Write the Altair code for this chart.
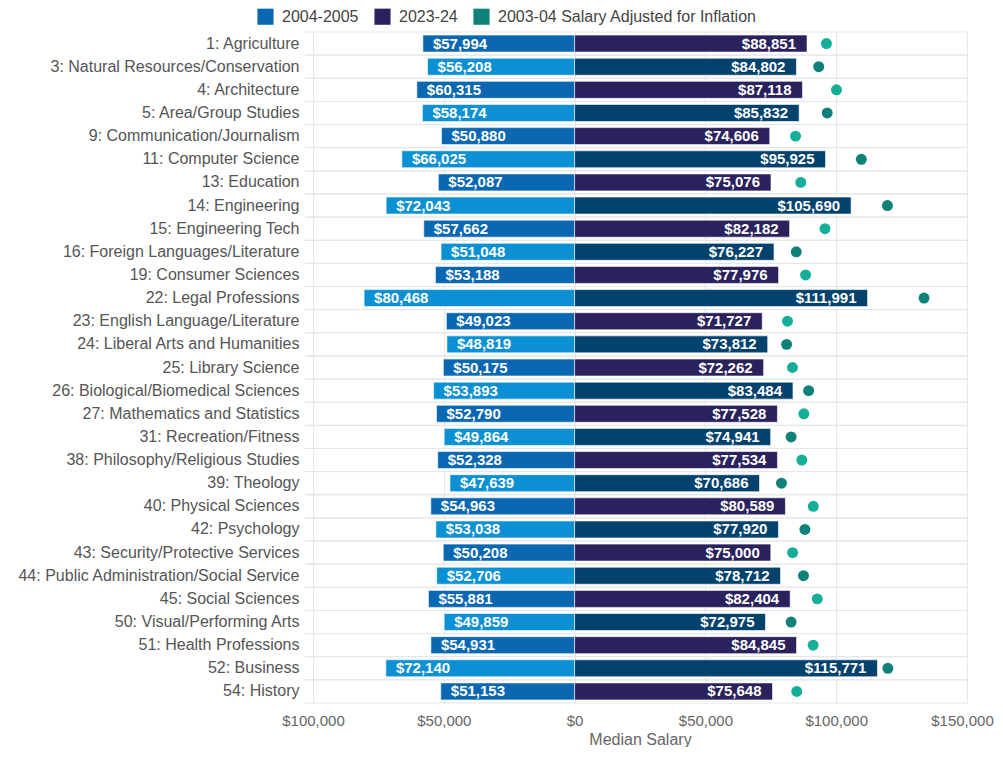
import altair as alt
import pandas as pd

categories = [
    "1: Agriculture", "3: Natural Resources/Conservation", "4: Architecture",
    "5: Area/Group Studies", "9: Communication/Journalism", "11: Computer Science",
    "13: Education", "14: Engineering", "15: Engineering Tech",
    "16: Foreign Languages/Literature", "19: Consumer Sciences", "22: Legal Professions",
    "23: English Language/Literature", "24: Liberal Arts and Humanities",
    "25: Library Science", "26: Biological/Biomedical Sciences",
    "27: Mathematics and Statistics", "31: Recreation/Fitness",
    "38: Philosophy/Religious Studies", "39: Theology", "40: Physical Sciences",
    "42: Psychology", "43: Security/Protective Services",
    "44: Public Administration/Social Service", "45: Social Sciences",
    "50: Visual/Performing Arts", "51: Health Professions", "52: Business", "54: History",
]
salary_2004 = [57994, 56208, 60315, 58174, 50880, 66025, 52087, 72043, 57662, 51048,
               53188, 80468, 49023, 48819, 50175, 53893, 52790, 49864, 52328, 47639,
               54963, 53038, 50208, 52706, 55881, 49859, 54931, 72140, 51153]
salary_2023 = [88851, 84802, 87118, 85832, 74606, 95925, 75076, 105690, 82182, 76227,
               77976, 111991, 71727, 73812, 72262, 83484, 77528, 74941, 77534, 70686,
               80589, 77920, 75000, 78712, 82404, 72975, 84845, 115771, 75648]
salary_adjusted = [96270, 93305, 100123, 96569, 84461, 109602, 86464, 119591, 95719, 84740,
                   88292, 133577, 81378, 81040, 83291, 89462, 87631, 82774, 86864, 79081,
                   91239, 88043, 83345, 87492, 92762, 82766, 91185, 119752, 84914]

S04 = "2004-2005"
S23 = "2023-24"
SADJ = "2003-04 Salary Adjusted for Inflation"
color_domain = [S04, S04 + " b", S23, S23 + " b", SADJ, SADJ + " b"]
color_range = ["#0a67b2", "#0b90d3", "#29225c", "#04426e", "#0f8178", "#15ae98"]

rows = []
for i, c in enumerate(categories):
    odd = i % 2 == 1
    rows.append(dict(
        cat=c,
        v04=salary_2004[i], neg04=-salary_2004[i],
        v23=salary_2023[i], adj=salary_adjusted[i],
        k04=S04 + (" b" if odd else ""),
        k23=S23 + (" b" if odd else ""),
        kadj=SADJ + ("" if odd else " b"),
    ))
df = pd.DataFrame(rows)

W, H = 654, 671
FONT = "Liberation Sans"

yscale = alt.Scale(domain=categories, paddingInner=0, paddingOuter=0)
yaxis = alt.Axis(ticks=False, domain=False, grid=False, labelPadding=14,
                 labelFontSize=16, labelColor="#555555", labelFont=FONT,
                 labelLimit=400)
xscale = alt.Scale(domain=[-100000, 150000], nice=False, zero=True)
xaxis = alt.Axis(values=[-100000, -50000, 0, 50000, 100000, 150000],
                 labelExpr='"$" + format(abs(datum.value), ",")',
                 ticks=False, domain=False, grid=True, gridColor="#e6e6e6",
                 labelFlush=False, labelOverlap=False,
                 labelOffset={"expr": "datum.value == 150000 ? -5 : 0"},
                 labelFontSize=15, labelColor="#666666", labelFont=FONT,
                 labelPadding=10, titleFontSize=16, titleColor="#666666",
                 titleFont=FONT, titleFontWeight="normal", titlePadding=3)

color_scale = alt.Scale(domain=color_domain, range=color_range)
legend = alt.Legend(values=[S04, S23, SADJ], orient="none", legendX=-56, legendY=-24,
                    direction="horizontal", title=None, symbolType="square",
                    symbolSize=260, symbolStrokeWidth=0, symbolOpacity=1,
                    labelFontSize=16, labelColor="#444444", labelFont=FONT,
                    labelLimit=500, columnPadding=15, labelOffset=8, padding=0)


def Y(**kw):
    return alt.Y("cat:N", sort=categories, scale=yscale, axis=yaxis, title=None, **kw)


def X(field):
    return alt.X(field, type="quantitative", scale=xscale, axis=xaxis, title="Median Salary")


base = alt.Chart(df)

separators = base.mark_rule(color="#e6e6e6", strokeWidth=1).encode(
    y=Y(bandPosition=0), x=alt.value(-8), x2=alt.value(W))
bottom_line = base.mark_rule(color="#e6e6e6", strokeWidth=1).encode(
    y=Y(bandPosition=1), x=alt.value(-8), x2=alt.value(W))

left_bars = base.mark_bar(size=17, stroke="#ffffff", strokeWidth=1, strokeOpacity=0.6).encode(
    y=Y(), x=X("neg04"),
    color=alt.Color("k04:N", scale=color_scale, legend=legend))
right_bars = base.mark_bar(size=17, stroke="#ffffff", strokeWidth=1, strokeOpacity=0.6).encode(
    y=Y(), x=X("v23"),
    color=alt.Color("k23:N", scale=color_scale, legend=legend))
dots = base.mark_circle(size=120, opacity=1).encode(
    y=Y(), x=X("adj"),
    color=alt.Color("kadj:N", scale=color_scale, legend=legend))

left_text = base.mark_text(align="left", dx=10, color="white", fontWeight="bold",
                           fontSize=15, font=FONT, baseline="middle").encode(
    y=Y(), x=X("neg04"), text=alt.Text("v04:Q", format="$,"))
right_text = base.mark_text(align="right", dx=-11, color="white", fontWeight="bold",
                            fontSize=15, font=FONT, baseline="middle").encode(
    y=Y(), x=X("v23"), text=alt.Text("v23:Q", format="$,"))

chart = alt.layer(
    separators, bottom_line, left_bars, right_bars, dots, left_text, right_text
).properties(
    width=W, height=H,
    autosize=alt.AutoSizeParams(type="none"),
    padding={"left": 305, "top": 24, "right": 28, "bottom": 44},
).configure_view(stroke=None)

chart.save("out.html", embed_options={"renderer": "svg", "actions": False})
